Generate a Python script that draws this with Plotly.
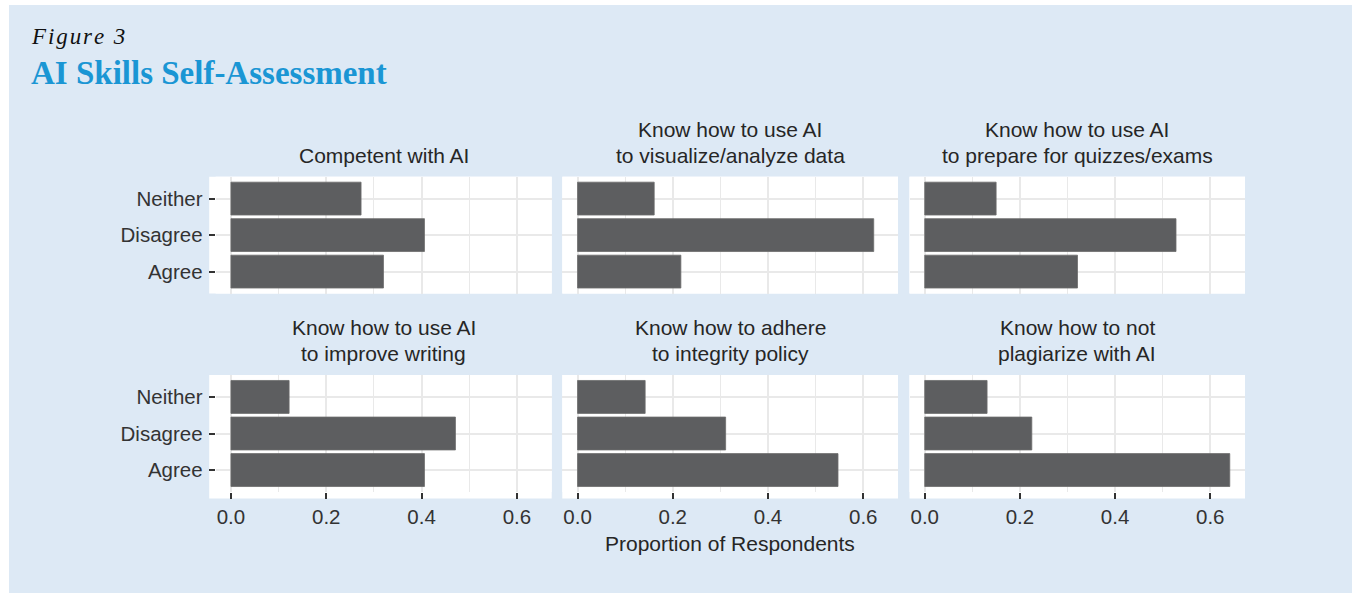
import plotly.graph_objects as go

# ---------------- data ----------------
categories = ["Agree", "Disagree", "Neither"]
facet_titles = [
    "Competent with AI",
    "Know how to use AI\nto visualize/analyze data",
    "Know how to use AI\nto prepare for quizzes/exams",
    "Know how to use AI\nto improve writing",
    "Know how to adhere\nto integrity policy",
    "Know how to not\nplagiarize with AI",
]
competent = [0.320, 0.406, 0.273]
visualize = [0.217, 0.622, 0.161]
quizzes = [0.321, 0.528, 0.150]
writing = [0.406, 0.471, 0.122]
integrity = [0.547, 0.311, 0.142]
plagiarize = [0.641, 0.225, 0.131]
x_ticks = [0.0, 0.2, 0.4, 0.6]
x_tick_labels = ["0.0", "0.2", "0.4", "0.6"]
x_minor = [0.1, 0.3, 0.5]
fig_label = "Figure 3"
title = "AI Skills Self-Assessment"
x_title = "Proportion of Respondents"

series = [competent, visualize, quizzes, writing, integrity, plagiarize]

# ---------------- layout geometry (pixels) ----------------
W, H = 1352, 593
col_x = [(215.7, 551.7), (562.3, 898.0), (909.5, 1245.0)]
row_y = [(176.7, 293.5), (375.0, 492.0)]

BAR = "#5d5e60"
GRID = "#e9e9e9"
TXT = "#262626"
SANS = "Liberation Sans, Arial, sans-serif"
SERIF = "Liberation Serif, Times New Roman, serif"

def px(x):
    return x / W

def py(y):
    return 1 - y / H

fig = go.Figure()
layout = dict(
    width=W, height=H,
    margin=dict(l=0, r=0, t=0, b=0),
    paper_bgcolor="#dde9f5",
    plot_bgcolor="white",
    showlegend=False,
    bargap=0.1,
)
shapes = [
    dict(type="rect", xref="paper", yref="paper", x0=0, x1=px(9), y0=0, y1=1,
         fillcolor="white", line=dict(width=0), layer="below"),
    dict(type="rect", xref="paper", yref="paper", x0=0, x1=1, y0=py(5), y1=1,
         fillcolor="white", line=dict(width=0), layer="below"),
]
annotations = []

for i, vals in enumerate(series):
    r, c = divmod(i, 3)
    n = i + 1
    xa = "x" if n == 1 else f"x{n}"
    ya = "y" if n == 1 else f"y{n}"
    fig.add_trace(go.Bar(
        x=vals, y=categories, orientation="h",
        xaxis=xa, yaxis=ya,
        marker=dict(color=BAR, line=dict(color="#6c6c6c", width=0.8)),
        width=0.9,
        hoverinfo="x+y",
    ))
    x0, x1 = col_x[c]
    y0, y1 = row_y[r]
    bottom_row = r == 1
    left_col = c == 0
    layout["xaxis" if n == 1 else f"xaxis{n}"] = dict(
        domain=[px(x0), px(x1)],
        anchor=ya,
        range=[-0.032, 0.673],
        tickmode="array", tickvals=x_ticks, ticktext=x_tick_labels,
        showticklabels=bottom_row,
        ticks="outside" if bottom_row else "",
        ticklen=6, tickwidth=2, tickcolor="#333333",
        tickfont=dict(family=SANS, size=20.5, color="#333333"),
        showgrid=True, gridcolor=GRID, gridwidth=2,
        minor=dict(tickmode="array", tickvals=x_minor, showgrid=True,
                   gridcolor=GRID, gridwidth=1),
        zeroline=False, showline=False, fixedrange=True,
    )
    layout["yaxis" if n == 1 else f"yaxis{n}"] = dict(
        domain=[py(y1), py(y0)],
        anchor=xa,
        type="category",
        categoryorder="array", categoryarray=categories,
        range=[-0.6, 2.6],
        showticklabels=left_col,
        ticks="outside" if left_col else "",
        ticklen=6, tickwidth=2, tickcolor="#333333",
        ticklabelstandoff=2,
        tickfont=dict(family=SANS, size=20.5, color="#333333"),
        showgrid=True, gridcolor=GRID, gridwidth=2,
        zeroline=False, showline=False, fixedrange=True,
    )
    # white panel background incl. tick area
    shapes.append(dict(
        type="rect", xref="paper", yref="paper",
        x0=px(x0 - (6.5 if left_col else 0)), x1=px(x1),
        y0=py(y1 + (6.5 if bottom_row else 0)), y1=py(y0),
        fillcolor="white", line=dict(width=0), layer="below",
    ))
    # facet title lines
    lines = facet_titles[i].split("\n")
    last_y = y0 - 21.5
    cx = (x0 + x1) / 2
    for k, line in enumerate(lines):
        yy = last_y - (len(lines) - 1 - k) * 26
        annotations.append(dict(
            text=line, xref="paper", yref="paper", x=px(cx), y=py(yy),
            xanchor="center", yanchor="middle", showarrow=False,
            font=dict(family=SANS, size=21, color=TXT),
        ))

annotations.append(dict(
    text=x_title, xref="paper", yref="paper", x=px(730.4), y=py(543),
    xanchor="center", yanchor="middle", showarrow=False,
    font=dict(family=SANS, size=21, color=TXT),
))
annotations.append(dict(
    text="\u200a".join(fig_label), xref="paper", yref="paper", x=px(29), y=py(36),
    xanchor="left", yanchor="middle", showarrow=False,
    font=dict(family=SERIF, size=23, color="#111111", style="italic"),
))
annotations.append(dict(
    text="<b>" + title + "</b>", xref="paper", yref="paper", x=px(29), y=py(73),
    xanchor="left", yanchor="middle", showarrow=False,
    font=dict(family=SERIF, size=33, color="#1a96d4"),
))

layout["shapes"] = shapes
layout["annotations"] = annotations
fig.update_layout(**layout)
fig.write_html(
    "out.html",
    config={"displayModeBar": False},
    post_script="document.body.style.margin='0';document.body.style.overflow='hidden';",
)
